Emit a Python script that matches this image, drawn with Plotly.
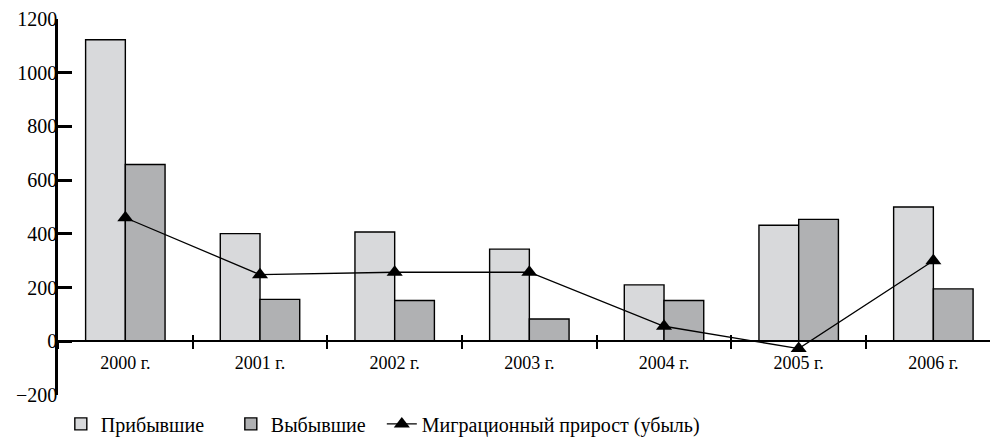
import plotly.graph_objects as go

years = ["2000 г.", "2001 г.", "2002 г.", "2003 г.", "2004 г.", "2005 г.", "2006 г."]
arrived = [1123, 401, 407, 343, 210, 432, 500]
departed = [658, 156, 152, 83, 152, 454, 195]
net_migration = [460, 248, 257, 257, 56, -27, 300]

y_ticks = [-200, 0, 200, 400, 600, 800, 1000, 1200]

FONT = "Liberation Serif"
X_RANGE = [-0.5, 6.48]
ZERO_POS = 200 / 1400

fig = go.Figure()
fig.add_trace(go.Bar(
    x=years, y=arrived, name="Прибывшие", legendwidth=125,
    marker=dict(color="#d8d9db", line=dict(color="black", width=1.4)),
))
fig.add_trace(go.Bar(
    x=years, y=departed, name="Выбывшие", legendwidth=106,
    marker=dict(color="#b0b1b3", line=dict(color="black", width=1.4)),
))
fig.add_trace(go.Scatter(
    x=years, y=net_migration, name="Миграционный прирост (убыль)",
    xaxis="x2", mode="lines+markers",
    line=dict(color="black", width=1.3),
    marker=dict(symbol="triangle-up", size=14, color="black"),
))

fig.update_layout(
    width=990, height=438,
    margin=dict(l=50, r=0, t=9, b=51),
    paper_bgcolor="white", plot_bgcolor="white",
    font=dict(family=FONT, size=18, color="black"),
    barmode="group", bargap=0.41, bargroupgap=0,
    showlegend=True,
    legend=dict(orientation="h", x=0.003, xanchor="left", y=-0.025, yanchor="top",
                font=dict(size=20), itemwidth=30, traceorder="normal",
                bgcolor="rgba(0,0,0,0)"),
    xaxis=dict(
        type="category", range=X_RANGE,
        anchor="free", position=ZERO_POS,
        showline=True, linecolor="black", linewidth=2,
        ticks="outside", tickson="boundaries", ticklen=7, tickwidth=2, tickcolor="black",
        ticklabelstandoff=5,
        showgrid=False, zeroline=False,
        tickfont=dict(size=18),
    ),
    xaxis2=dict(
        type="category", range=X_RANGE, overlaying="x",
        anchor="free", position=ZERO_POS,
        showline=False, showticklabels=False,
        ticks="inside", tickson="boundaries", ticklen=6, tickwidth=2, tickcolor="black",
        showgrid=False, zeroline=False,
    ),
    yaxis=dict(
        range=[-200, 1200], tickvals=y_ticks,
        showline=True, linecolor="black", linewidth=2.5,
        ticks="inside", ticklen=14, tickwidth=2.5, tickcolor="black",
        ticklabelstandoff=-6, ticklabeloverflow="allow",
        showgrid=False, zeroline=False,
        tickfont=dict(size=20),
    ),
)

fig.write_html("out.html")
